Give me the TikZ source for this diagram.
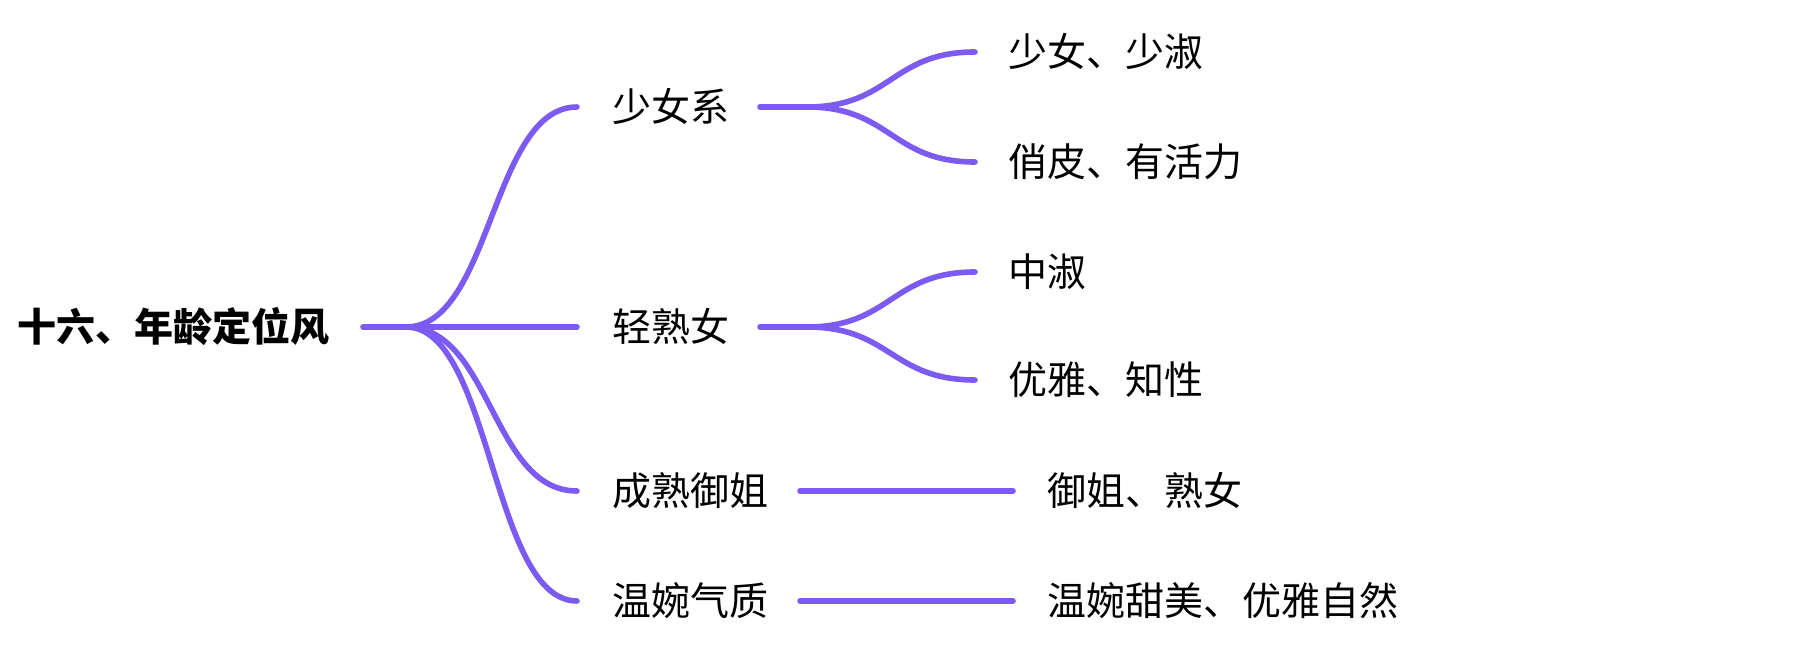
\documentclass[tikz,border=0pt]{standalone}
\usepackage{fontspec}
\newfontfamily\cjk{Noto Sans CJK SC}
\definecolor{linkc}{RGB}{124,91,242}
\begin{document}
\begin{tikzpicture}[x=0.5pt,y=-0.5pt,
  lnk/.style={draw=linkc, line width=2.8pt, line cap=round},
  lbl/.style={anchor=west, inner sep=0pt, font=\cjk\fontsize{19.5pt}{22pt}\selectfont, text height=16.2pt, text depth=1.4pt},
  rootlbl/.style={lbl, font=\cjk\bfseries\fontsize{19.5pt}{22pt}\selectfont}
]
\useasboundingbox (0,0) rectangle (1810,651);
% root
\node[rootlbl] (root) at (17,327) {十六、年龄定位风};
\coordinate (r0) at (363,327);
\coordinate (rb) at (406,327);
% level 1
\node[lbl] (n1) at (612,107) {少女系};
\node[lbl] (n2) at (612,327) {轻熟女};
\node[lbl] (n3) at (612,491) {成熟御姐};
\node[lbl] (n4) at (612,601) {温婉气质};
\coordinate (e1) at (577,107);
\coordinate (e2) at (577,327);
\coordinate (e3) at (577,491);
\coordinate (e4) at (577,601);
\draw[lnk] (r0) -- (e2);
\draw[lnk] (rb) .. controls (491.5,327) and (491.5,107) .. (e1);
\draw[lnk] (rb) .. controls (491.5,327) and (491.5,491) .. (e3);
\draw[lnk] (rb) .. controls (491.5,327) and (491.5,601) .. (e4);
% level 2 under 少女系
\coordinate (s1a) at (760,107);
\coordinate (s1b) at (807,107);
\coordinate (f11) at (975,52);
\coordinate (f12) at (975,162);
\node[lbl] (c11) at (1008,52) {少女、少淑};
\node[lbl] (c12) at (1008,162) {俏皮、有活力};
\draw[lnk] (s1a) -- (s1b);
\draw[lnk] (s1b) .. controls (891,107) and (891,52) .. (f11);
\draw[lnk] (s1b) .. controls (891,107) and (891,162) .. (f12);
% level 2 under 轻熟女
\coordinate (s2a) at (760,327);
\coordinate (s2b) at (807,327);
\coordinate (f21) at (975,272);
\coordinate (f22) at (975,380);
\node[lbl] (c21) at (1008,272) {中淑};
\node[lbl] (c22) at (1008,380) {优雅、知性};
\draw[lnk] (s2a) -- (s2b);
\draw[lnk] (s2b) .. controls (891,327) and (891,272) .. (f21);
\draw[lnk] (s2b) .. controls (891,327) and (891,380) .. (f22);
% level 2 under 成熟御姐 and 温婉气质
\coordinate (s3a) at (800,491);
\coordinate (s3b) at (1013,491);
\coordinate (s4a) at (800,601);
\coordinate (s4b) at (1013,601);
\node[lbl] (c31) at (1047,491) {御姐、熟女};
\node[lbl] (c41) at (1047,601) {温婉甜美、优雅自然};
\draw[lnk] (s3a) -- (s3b);
\draw[lnk] (s4a) -- (s4b);
\end{tikzpicture}
\end{document}
